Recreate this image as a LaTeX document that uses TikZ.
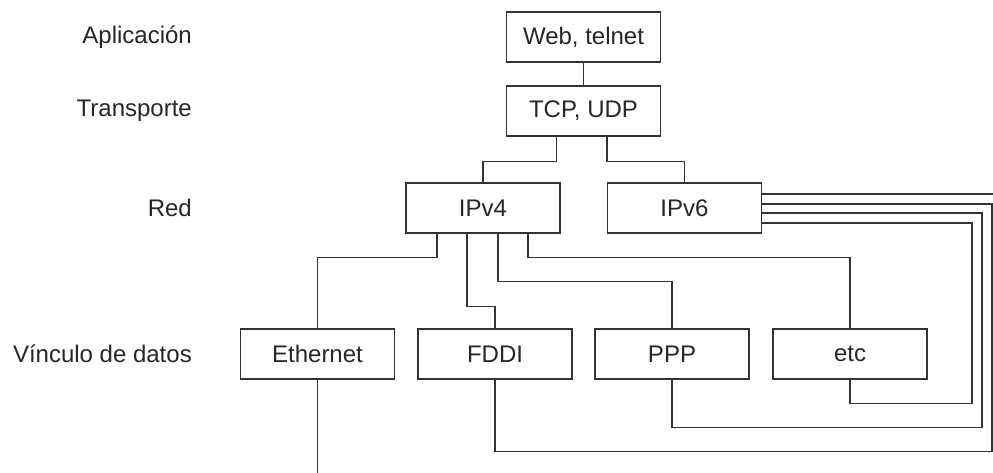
\documentclass[tikz,border=0pt]{standalone}
\usepackage{fontspec}
\setmainfont{Liberation Sans}
\usetikzlibrary{calc}
\begin{document}
\begin{tikzpicture}[x=1pt,y=-1pt,
  box/.style={draw=black!80,line width=1.3pt,minimum width=154pt,minimum height=50pt,inner sep=0pt,font=\fontsize{24}{28}\selectfont,text=black!85},
  lbl/.style={anchor=east,inner sep=0pt,font=\fontsize{24}{28}\selectfont,text=black!85},
  wire/.style={draw=black!80,line width=1.3pt}]
\useasboundingbox (0,0) rectangle (993,473);
\node[box] (web) at (583.5,37) {Web, telnet};
\node[box] (tcp) at (583.5,111) {TCP, UDP};
\node[box] (ipv4) at (483,208) {IPv4};
\node[box] (ipv6) at (684.5,208) {IPv6};
\node[box] (eth) at (317.5,354) {Ethernet};
\node[box] (fddi) at (495,354) {FDDI};
\node[box] (ppp) at (672,354) {PPP};
\node[box] (etc) at (850,354) {etc};
\node[lbl] (l1) at (192,37) {Aplicación};
\node[lbl] (l2) at (192,111) {Transporte};
\node[lbl] (l3) at (192,208) {Red};
\node[lbl] (l4) at (192,354) {Vínculo de datos};
\coordinate (r1) at (992,0);
\coordinate (r2) at (982,0);
\coordinate (r3) at (972,0);
\coordinate (ethout) at (317.5,473);
\coordinate (v6out) at (993,194);
\draw[wire] (web) -- (tcp);
\draw[wire] ($(tcp.south)+(-27,0)$) -- ++(0,25) -| (ipv4.north);
\draw[wire] ($(tcp.south)+(23.5,0)$) -- ++(0,25) -| (ipv6.north);
\draw[wire] ($(ipv4.south)+(-46,0)$) -- ++(0,24) -| (eth.north);
\draw[wire] ($(ipv4.south)+(-16,0)$) -- ++(0,73) -| (fddi.north);
\draw[wire] ($(ipv4.south)+(15,0)$) -- ++(0,48) -| (ppp.north);
\draw[wire] ($(ipv4.south)+(45,0)$) -- ++(0,24) -| (etc.north);
\draw[wire] (eth.south) -- (ethout);
\draw[wire] ($(ipv6.east)+(0,-14)$) -- (v6out);
\draw[wire] (fddi.south) -- ++(0,72) -| ($(r1 |- ipv6.east)+(0,-4)$) -- ($(ipv6.east)+(0,-4)$);
\draw[wire] (ppp.south) -- ++(0,48) -| ($(r2 |- ipv6.east)+(0,5)$) -- ($(ipv6.east)+(0,5)$);
\draw[wire] (etc.south) -- ++(0,24) -| ($(r3 |- ipv6.east)+(0,15)$) -- ($(ipv6.east)+(0,15)$);
\end{tikzpicture}
\end{document}
